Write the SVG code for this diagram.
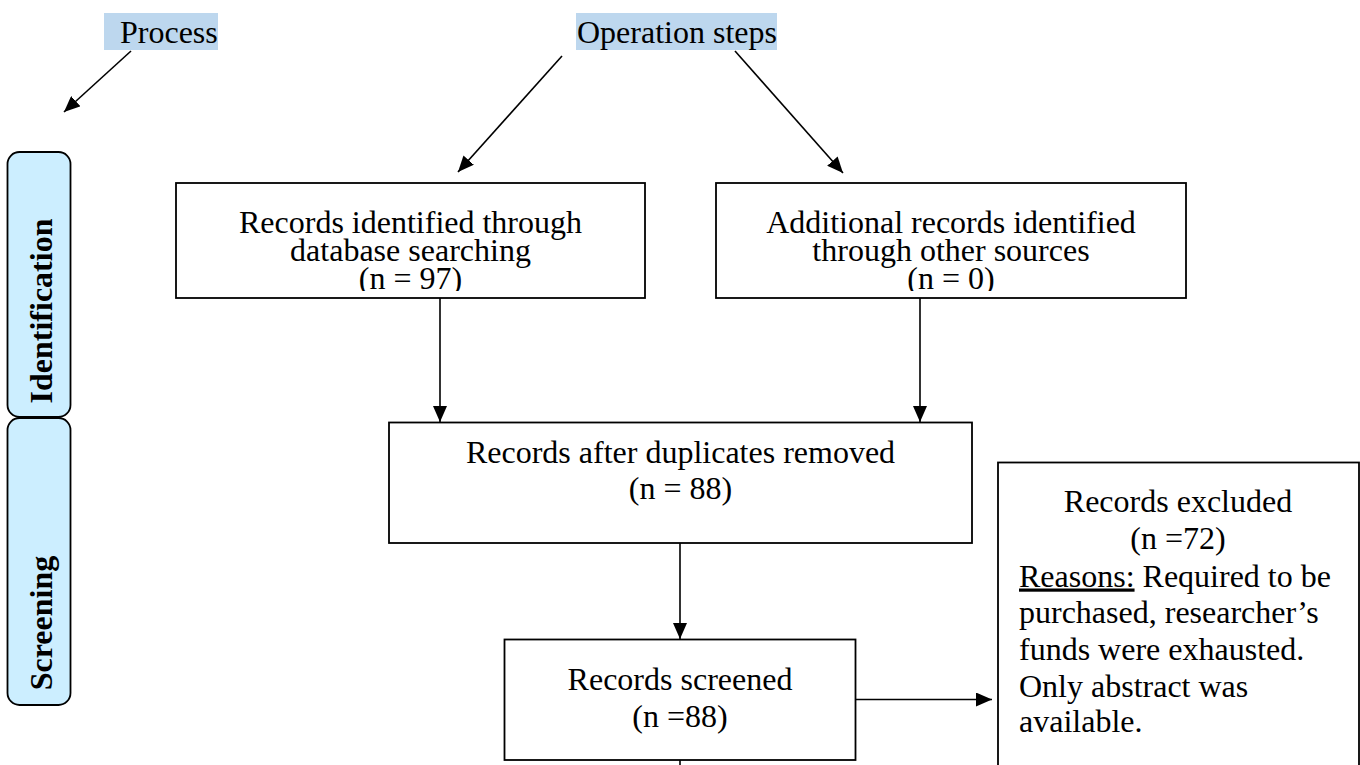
<svg xmlns="http://www.w3.org/2000/svg" width="1360" height="765" viewBox="0 0 1360 765">
  <style>
    .t { font-family: "Liberation Serif", "Times New Roman", serif; font-size: 32px; fill: #000; }
    .c { text-anchor: middle; }
    .b { font-weight: bold; }
    .box { fill: #fff; stroke: #000; stroke-width: 1.8; }
    .phase { fill: #CCEEFF; stroke: #000; stroke-width: 1.8; }
    .hl { fill: #BDD7EE; }
    .ln { stroke: #000; stroke-width: 1.6; fill: none; marker-end: url(#arrow); }
    .plain { stroke: #000; stroke-width: 1.6; fill: none; }
  </style>
  <defs>
    <marker id="arrow" markerUnits="userSpaceOnUse" markerWidth="16" markerHeight="14" viewBox="0 0 16 14" refX="16" refY="7" orient="auto">
      <path d="M0,0 L16,7 L0,14 Z" fill="#000"/>
    </marker>
    <!-- text areas of the two top boxes (last line is cut by the frame) -->
    <clipPath id="clipA"><rect x="176" y="183" width="469" height="108"/></clipPath>
    <clipPath id="clipB"><rect x="716" y="183" width="470" height="108"/></clipPath>
  </defs>

  <rect width="1360" height="765" fill="#fff"/>

  <!-- header labels -->
  <g id="label-process">
    <rect class="hl" x="104" y="13" width="114" height="37"/>
    <text class="t" x="120" y="43">Process</text>
  </g>
  <g id="label-operation">
    <rect class="hl" x="576" y="13" width="201" height="37"/>
    <text class="t" x="577" y="43">Operation steps</text>
  </g>

  <!-- phase bars -->
  <g id="phase-identification">
    <rect class="phase" x="7.5" y="152" width="63" height="265" rx="12" ry="12"/>
    <text class="t b c" transform="translate(52,311) rotate(-90)">Identification</text>
  </g>
  <g id="phase-screening">
    <rect class="phase" x="7.5" y="418" width="63" height="287" rx="12" ry="12"/>
    <text class="t b c" transform="translate(52,623) rotate(-90)">Screening</text>
  </g>

  <!-- flow boxes -->
  <g id="node-database">
    <rect class="box" x="176" y="183" width="469" height="115"/>
    <g clip-path="url(#clipA)">
      <text class="t c" x="410.5" y="233">Records identified through</text>
      <text class="t c" x="410.5" y="261">database searching</text>
      <text class="t c" x="410.5" y="289">(n = 97)</text>
    </g>
  </g>
  <g id="node-other">
    <rect class="box" x="716" y="183" width="470" height="115"/>
    <g clip-path="url(#clipB)">
      <text class="t c" x="951" y="233">Additional records identified</text>
      <text class="t c" x="951" y="261">through other sources</text>
      <text class="t c" x="951" y="289">(n = 0)</text>
    </g>
  </g>
  <g id="node-duplicates">
    <rect class="box" x="389" y="422.5" width="583" height="120.5"/>
    <text class="t c" x="680.5" y="463">Records after duplicates removed</text>
    <text class="t c" x="680.5" y="499">(n = 88)</text>
  </g>
  <g id="node-screened">
    <rect class="box" x="504.5" y="639.5" width="351" height="120.5"/>
    <text class="t c" x="680" y="690">Records screened</text>
    <text class="t c" x="680" y="726.5">(n =88)</text>
  </g>
  <g id="node-excluded">
    <rect class="box" x="998" y="462.5" width="361" height="320"/>
    <text class="t c" x="1178" y="511.5">Records excluded</text>
    <text class="t c" x="1178" y="549">(n =72)</text>
    <text class="t" x="1019" y="586.5"><tspan text-decoration="underline">Reasons:</tspan> Required to be</text>
    <text class="t" x="1019" y="623">purchased, researcher’s</text>
    <text class="t" x="1019" y="660">funds were exhausted.</text>
    <text class="t" x="1019" y="696.5">Only abstract was</text>
    <text class="t" x="1019" y="731.5">available.</text>
  </g>

  <!-- connectors -->
  <g id="connectors">
    <line class="ln" x1="131" y1="51" x2="64" y2="112"/>
    <line class="ln" x1="562" y1="56" x2="458" y2="172"/>
    <line class="ln" x1="735" y1="51" x2="843" y2="173"/>
    <line class="ln" x1="440" y1="298" x2="440" y2="422"/>
    <line class="ln" x1="920" y1="298" x2="920" y2="422"/>
    <line class="ln" x1="680" y1="543" x2="680" y2="639"/>
    <line class="ln" x1="855.5" y1="699.5" x2="992" y2="699.5"/>
    <line class="plain" x1="680" y1="760" x2="680" y2="765"/>
  </g>
</svg>
